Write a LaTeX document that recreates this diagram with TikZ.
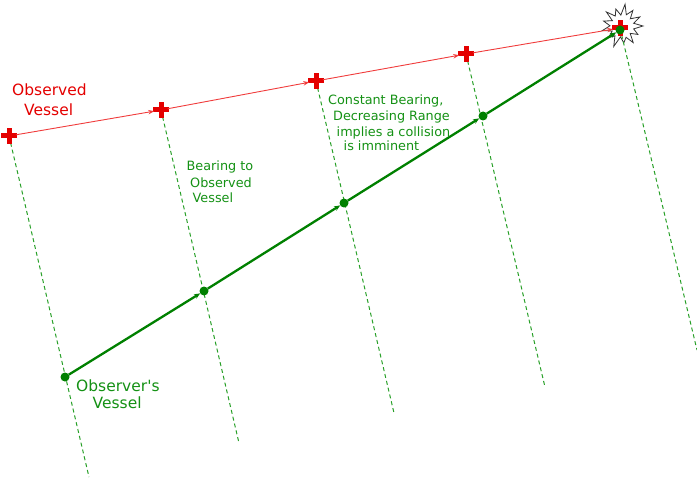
\documentclass[tikz,border=0pt]{standalone}
\usepackage{fontspec}
\setmainfont{DejaVu Sans}
\usetikzlibrary{arrows.meta,shapes.misc}
\definecolor{obsred}{RGB}{228,0,0}
\definecolor{linered}{RGB}{240,60,60}
\definecolor{mygreen}{RGB}{0,128,0}
\definecolor{dashgreen}{RGB}{40,160,40}
\definecolor{txtgreen}{RGB}{20,145,20}
\definecolor{burstgray}{RGB}{50,50,50}
\tikzset{
  plusmark/.style={cross out, draw=obsred, line width=5pt, minimum size=11.3pt, inner sep=0pt, outer sep=0pt, rotate=45},
  selfdot/.style={circle, fill=mygreen, minimum size=9pt, inner sep=0pt, outer sep=0pt},
  bearing/.style={draw=dashgreen, line width=1pt, dash pattern=on 4pt off 3pt},
  obstrack/.style={draw=linered, line width=0.9pt, -{Stealth[length=6pt,width=4.5pt]}},
  selftrack/.style={draw=mygreen, line width=2.3pt, -{Stealth[length=6pt,width=5pt]}},
  burst/.style={draw=burstgray, line width=0.8pt},
  redlbl/.style={text=obsred, anchor=base west, inner sep=0pt, font=\fontsize{15.5}{19}\selectfont},
  greenlbl/.style={text=txtgreen, anchor=base west, inner sep=0pt, font=\fontsize{15.5}{19}\selectfont},
  smalllbl/.style={text=txtgreen, anchor=base west, inner sep=0pt, font=\fontsize{12.8}{16}\selectfont}
}
\begin{document}
\begin{tikzpicture}[x=1pt,y=-1pt]
\useasboundingbox (0,0) rectangle (697,500);
% positions
\coordinate (b) at (622,26);
\coordinate (e1) at (89,477);
\coordinate (e2) at (239,443);
\coordinate (e3) at (394,413);
\coordinate (e4) at (545,387);
\coordinate (e5) at (697,350);
% starburst
\begin{scope}[shift={(b)}]
\draw[burst] (0:21) -- (14:12) -- (28:18) -- (42:11) -- (56:20) -- (70:12) -- (84:17) -- (98:11) -- (112:22) -- (126:12) -- (139:18) -- (153:11) -- (167:20) -- (181:12) -- (195:19) -- (209:11) -- (222:21) -- (236:12) -- (250:18) -- (264:11) -- (278:22) -- (291:12) -- (305:19) -- (319:11) -- (333:20) -- (347:12) -- cycle;
\end{scope}
% coordinates of observed vessel and observer
\coordinate (p1) at (9,136);
\coordinate (p2) at (161,110);
\coordinate (p3) at (316,81);
\coordinate (p4) at (466,54);
\coordinate (p5) at (620,28);
% bearing lines
\draw[bearing] (p1) -- (e1);
\draw[bearing] (p2) -- (e2);
\draw[bearing] (p3) -- (e3);
\draw[bearing] (p4) -- (e4);
\draw[bearing] (p5) -- (e5);
% crosses
\node[plusmark] (o1) at (p1) {};
\node[plusmark] (o2) at (p2) {};
\node[plusmark] (o3) at (p3) {};
\node[plusmark] (o4) at (p4) {};
\node[plusmark] (o5) at (p5) {};
% observed track
\draw[obstrack] (o1) -- (o2);
\draw[obstrack] (o2) -- (o3);
\draw[obstrack] (o3) -- (o4);
\draw[obstrack] (o4) -- (o5);
% observer dots
\node[selfdot] (s1) at (65,377) {};
\node[selfdot] (s2) at (204,291) {};
\node[selfdot] (s3) at (344,203) {};
\node[selfdot] (s4) at (483,116) {};
\node[selfdot] (s5) at (620,30) {};
\draw[selftrack] (s1) -- (s2);
\draw[selftrack] (s2) -- (s3);
\draw[selftrack] (s3) -- (s4);
\draw[selftrack] (s4) -- (s5);
% labels
\node[redlbl] (t1) at (12,96) {Observed};
\node[redlbl] (t2) at (24,115.5) {Vessel};
\node[greenlbl] (t3) at (76,391.5) {Observer\textquotesingle s};
\node[greenlbl] (t4) at (92.5,408) {Vessel};
\node[smalllbl] (t5) at (186.5,171) {Bearing to};
\node[smalllbl] (t6) at (190,187.5) {Observed};
\node[smalllbl] (t7) at (192.5,203) {Vessel};
\node[smalllbl] (t8) at (328,105) {Constant Bearing,};
\node[smalllbl] (t9) at (333,121) {Decreasing Range};
\node[smalllbl] (t10) at (336.5,136.5) {implies a collision};
\node[smalllbl] (t11) at (343.5,151) {is imminent};
\end{tikzpicture}
\end{document}
